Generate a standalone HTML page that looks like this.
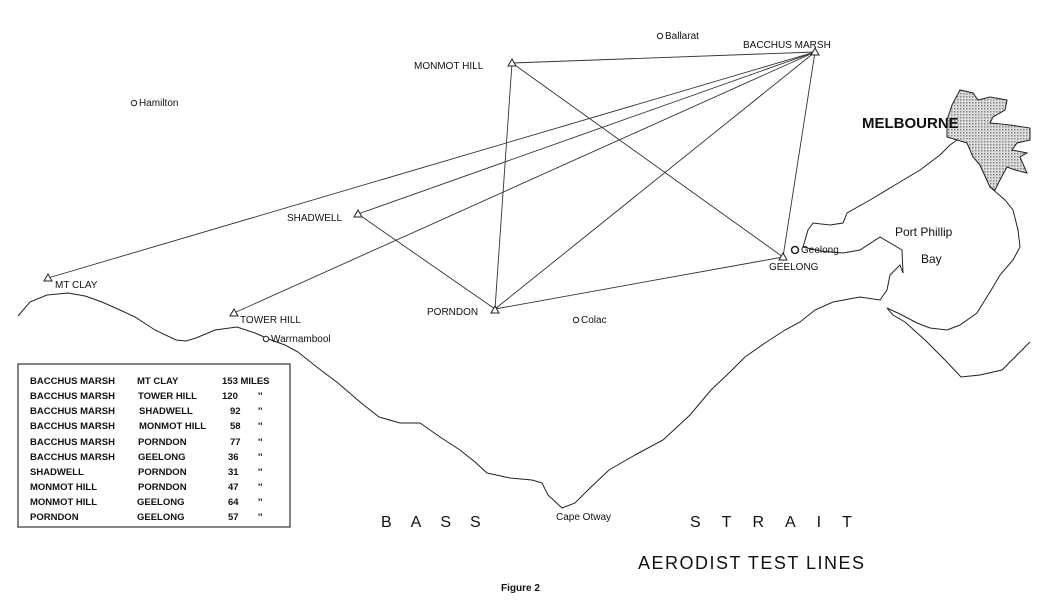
<!DOCTYPE html>
<html><head><style>
body{margin:0;background:#fff;}
svg text{font-family:"Liberation Sans",sans-serif;fill:#111;}
</style></head><body>
<svg width="1049" height="602" viewBox="0 0 1049 602" xmlns="http://www.w3.org/2000/svg">
<defs><pattern id="dots" width="3" height="3" patternUnits="userSpaceOnUse"><rect width="3" height="3" fill="#ddd"/><rect width="1.5" height="1.5" fill="#888"/></pattern></defs>
<g fill="none" stroke="#222" stroke-width="1">
<polyline points="18,316 30,302 47,295 68,293 85,296 102,302 120,310 135,317 155,330 176,340 186,341 196,338 215,330 237,327 255,333 271,340 285,345 298,352 318,368 338,383 360,402 379,417 400,423 420,423 440,437 460,450 475,462 487,473 510,478 532,480 542,483 548,495 562,508 575,503 590,488 609,470 635,455 663,440 690,415 711,390 730,372 745,357 765,343 785,330 800,322 815,310 833,302 860,297 880,300 887,290 890,275 900,265 903,273 902,250 880,237 860,250 843,253 820,251 803,247 808,230 813,223 830,225 843,223 847,213 870,200 895,185 920,170 940,155 950,145 957,140"/>
<polyline points="967,143 980,165 990,187 1005,200 1013,210 1018,230 1020,247 1013,260 1000,275 993,287 977,313 960,325 947,330 930,328 917,323 900,314 887,308 893,315 905,322 925,340 945,360 961,377 980,375 1002,370 1020,352 1030,342"/>
<polygon fill="url(#dots)" points="947,120 952,105 960,90 973,93 978,100 990,97 1007,100 1005,110 993,117 990,123 1010,125 1030,128 1030,140 1017,143 1012,150 1027,153 1020,157 1027,173 1015,170 1007,167 1000,180 995,190 990,187 980,165 973,157 967,143 957,140 947,137"/>
<g stroke="#333" stroke-width="0.9">
<line x1="815" y1="52" x2="48" y2="278"/>
<line x1="815" y1="52" x2="234" y2="313"/>
<line x1="815" y1="52" x2="358" y2="214"/>
<line x1="815" y1="52" x2="512" y2="63"/>
<line x1="815" y1="52" x2="495" y2="309"/>
<line x1="815" y1="52" x2="783" y2="257"/>
<line x1="358" y1="214" x2="495" y2="309"/>
<line x1="512" y1="63" x2="495" y2="309"/>
<line x1="512" y1="63" x2="783" y2="257"/>
<line x1="495" y1="309" x2="783" y2="257"/>
</g>
<g fill="#fff">
<polygon points="815,48 819,55 811,55"/><polygon points="512,59 516,66 508,66"/><polygon points="358,210 362,217 354,217"/>
<polygon points="48,274 52,281 44,281"/><polygon points="234,309 238,316 230,316"/><polygon points="495,306 499,313 491,313"/><polygon points="783,253 787,260 779,260"/>
<circle cx="660" cy="36" r="2.7"/><circle cx="134" cy="103" r="2.7"/><circle cx="266" cy="339" r="2.7"/><circle cx="576" cy="320" r="2.7"/>
<circle cx="795" cy="250" r="3.5" stroke-width="1.5"/>
</g>
<rect x="18" y="364" width="272" height="163" stroke="#333" stroke-width="1.2"/>
</g>
<g font-size="10">
<text x="743" y="48">BACCHUS MARSH</text>
<text x="414" y="69">MONMOT HILL</text>
<text x="665" y="39">Ballarat</text>
<text x="139" y="106">Hamilton</text>
<text x="287" y="221">SHADWELL</text>
<text x="55" y="288">MT CLAY</text>
<text x="240" y="323">TOWER HILL</text>
<text x="271" y="342">Warrnambool</text>
<text x="427" y="315">PORNDON</text>
<text x="581" y="323">Colac</text>
<text x="801" y="253">Geelong</text>
<text x="769" y="270">GEELONG</text>
<text x="556" y="520">Cape Otway</text>
</g>
<text x="862" y="128" font-size="15" font-weight="bold">MELBOURNE</text>
<text x="895" y="236" font-size="12">Port Phillip</text>
<text x="921" y="263" font-size="12">Bay</text>
<text x="381" y="527" font-size="16" letter-spacing="19">BASS</text>
<text x="690" y="527" font-size="16" letter-spacing="21">STRAIT</text>
<text x="638" y="569" font-size="18" letter-spacing="1.5">AERODIST TEST  LINES</text>
<text x="501" y="591" font-size="10" font-weight="bold">Figure 2</text>
<g font-size="9.5" font-weight="bold">
<text x="30" y="384">BACCHUS MARSH</text><text x="137" y="384">MT CLAY</text><text x="222" y="384">153 MILES</text>
<text x="30" y="399">BACCHUS MARSH</text><text x="138" y="399">TOWER HILL</text><text x="222" y="399">120</text><text x="258" y="399">''</text>
<text x="30" y="414">BACCHUS MARSH</text><text x="139" y="414">SHADWELL</text><text x="230" y="414">92</text><text x="258" y="414">''</text>
<text x="30" y="429">BACCHUS MARSH</text><text x="139" y="429">MONMOT HILL</text><text x="230" y="429">58</text><text x="258" y="429">''</text>
<text x="30" y="445">BACCHUS MARSH</text><text x="138" y="445">PORNDON</text><text x="230" y="445">77</text><text x="258" y="445">''</text>
<text x="30" y="460">BACCHUS MARSH</text><text x="138" y="460">GEELONG</text><text x="228" y="460">36</text><text x="258" y="460">''</text>
<text x="30" y="475">SHADWELL</text><text x="138" y="475">PORNDON</text><text x="228" y="475">31</text><text x="258" y="475">''</text>
<text x="30" y="490">MONMOT HILL</text><text x="138" y="490">PORNDON</text><text x="228" y="490">47</text><text x="258" y="490">''</text>
<text x="30" y="505">MONMOT HILL</text><text x="137" y="505">GEELONG</text><text x="228" y="505">64</text><text x="258" y="505">''</text>
<text x="30" y="520">PORNDON</text><text x="137" y="520">GEELONG</text><text x="228" y="520">57</text><text x="258" y="520">''</text>
</g>
</svg>
</body></html>
